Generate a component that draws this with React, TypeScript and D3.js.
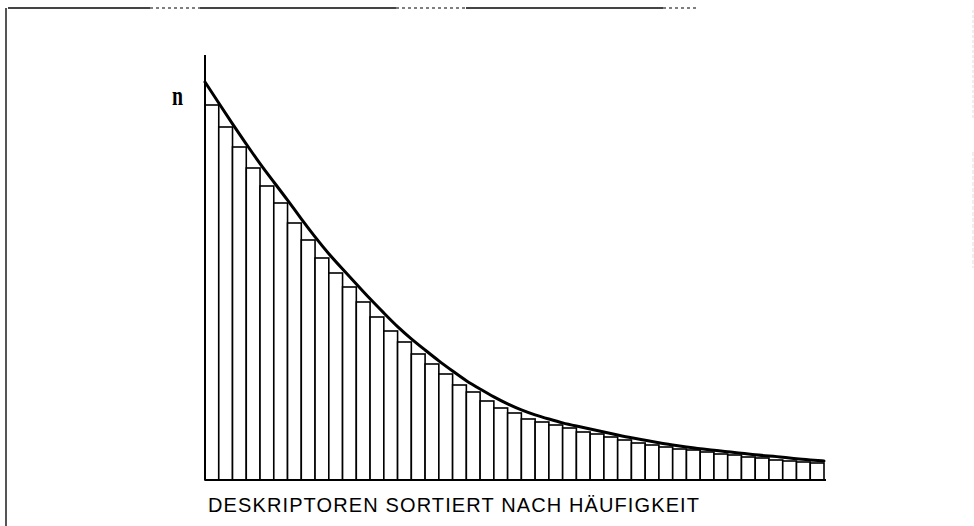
import * as d3 from "d3";

// frequency of each descriptor, sorted (arbitrary units)
const barValues = [
  375, 353, 333, 312, 294, 277, 257, 240, 222, 207, 193, 178, 163, 149, 138,
  126, 116, 106, 95, 88, 79, 72, 67, 61, 58, 55, 52, 48, 46, 43,
  40, 37, 35, 33, 31, 30, 28, 26, 25, 23, 22, 20, 19, 18, 17,
];

// smooth envelope, one value per bar edge (46 edges)
const curveValues = [
  398, 377, 356, 336, 316, 298, 280, 261, 243, 226, 211, 196, 181, 167, 153,
  141, 130, 119, 109, 99, 91, 83, 76, 70, 65, 61, 57, 54, 51, 48,
  45, 42, 40, 37, 35, 33, 31, 30, 28, 27, 25, 24, 23, 21, 20, 19,
];

const yLabel = "n";
const xLabel = "DESKRIPTOREN SORTIERT NACH HÄUFIGKEIT";

const App = () => {
  const width = 974,
    height = 526;
  const left = 205,
    right = 824,
    baseY = 480;

  const x = d3
    .scaleBand<number>()
    .domain(barValues.map((_, i) => i))
    .range([left, right])
    .paddingInner(0)
    .paddingOuter(0);

  const xEdge = d3
    .scaleLinear()
    .domain([0, barValues.length])
    .range([left, right]);

  const y = d3.scaleLinear().domain([0, 400]).range([baseY, 80]);

  const line = d3
    .line<number>()
    .x((_, i) => xEdge(i))
    .y((d) => y(d))
    .curve(d3.curveBasis);

  // scan border: pieces of the top rule
  const topRule = [
    [8, 150],
    [200, 396],
    [466, 663],
  ];
  const topDots = [
    [150, 200],
    [396, 466],
    [663, 699],
  ];

  return (
    <svg
      width={width}
      height={height}
      style={{ position: "absolute", left: 0, top: 0, background: "white" }}
    >
      {/* frame of the scanned page */}
      <line x1={6} x2={6} y1={8} y2={526} stroke="#555" strokeWidth={2} />
      {topRule.map(([a, b], i) => (
        <line key={"r" + i} x1={a} x2={b} y1={8} y2={8} stroke="#444" strokeWidth={2} />
      ))}
      {topDots.map(([a, b], i) => (
        <line
          key={"d" + i}
          x1={a}
          x2={b}
          y1={8}
          y2={8}
          stroke="#555"
          strokeWidth={1.5}
          strokeDasharray="3 3"
        />
      ))}
      <line x1={973} x2={973} y1={10} y2={120} stroke="#ddd" strokeWidth={1} strokeDasharray="3 2" />
      <line x1={973} x2={973} y1={152} y2={268} stroke="#ddd" strokeWidth={1} strokeDasharray="4 2" />

      {/* bars */}
      <g>
        {barValues.map((v, i) => (
          <rect
            key={i}
            x={x(i)}
            y={y(v)}
            width={x.bandwidth()}
            height={baseY - y(v)}
            fill="white"
            stroke="black"
            strokeWidth={1.6}
          />
        ))}
      </g>

      {/* axes */}
      <line x1={left} x2={left} y1={55} y2={baseY} stroke="black" strokeWidth={2} />
      <line x1={left} x2={right + 2} y1={baseY} y2={baseY} stroke="black" strokeWidth={2} />

      {/* envelope curve */}
      <path
        d={line(curveValues) ?? ""}
        fill="none"
        stroke="black"
        strokeWidth={3}
        strokeLinecap="round"
      />

      <text
        x={172}
        y={105}
        fontFamily="Liberation Serif, serif"
        fontWeight="bold"
        fontSize={28}
        textLength={11}
        lengthAdjust="spacingAndGlyphs"
      >
        {yLabel}
      </text>
      <text
        x={208}
        y={512}
        fontFamily="Liberation Sans, Arial, sans-serif"
        fontSize={20}
        textLength={491}
        lengthAdjust="spacing"
      >
        {xLabel}
      </text>
    </svg>
  );
};

export default App;
